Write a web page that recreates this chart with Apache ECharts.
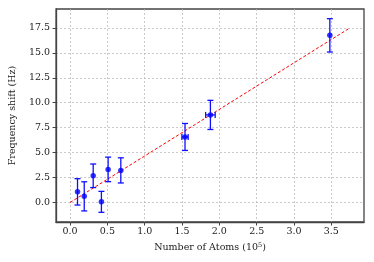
<!DOCTYPE html>
<html><head><meta charset="utf-8">
<script src="https://cdn.jsdelivr.net/npm/echarts@6/dist/echarts.min.js"></script>
<style>html,body{margin:0;padding:0;background:#fff}#c{width:374px;height:262px}</style>
</head><body><div id="c"></div>
<script>
var xValues = [0.10, 0.19, 0.31, 0.42, 0.51, 0.68, 1.54, 1.88, 3.48];
var yValues = [1.07, 0.62, 2.68, 0.07, 3.32, 3.22, 6.57, 8.78, 16.75];
var yErr    = [1.32, 1.46, 1.18, 1.05, 1.23, 1.26, 1.35, 1.46, 1.67];
var xErr    = [0, 0, 0, 0, 0, 0, 0.042, 0.064, 0];
var fitX = [0, 3.75];
var fitY = [0, 17.5];
var xTicks = [0, 0.5, 1.0, 1.5, 2.0, 2.5, 3.0, 3.5];
var yTicks = [0, 2.5, 5.0, 7.5, 10.0, 12.5, 15.0, 17.5];

var FONT = 'DejaVu Serif';
var chart = echarts.init(document.getElementById('c'), null, {renderer: 'canvas'});
var errData = xValues.map(function (x, i) { return [x, yValues[i], yErr[i], xErr[i]]; });
var pts = xValues.map(function (x, i) { return [x, yValues[i]]; });
var fit = fitX.map(function (x, i) { return [x, fitY[i]]; });

function axisCommon(ticks) {
  return {
    axisLine: {show: true, onZero: false, lineStyle: {color: '#444', width: 1.3}},
    axisTick: {show: true, inside: false, length: 3.5, lineStyle: {color: '#444', width: 1}, customValues: ticks},
    axisLabel: {customValues: ticks, color: '#222', fontFamily: FONT, fontSize: 9.5,
      formatter: function (v) { return v.toFixed(1); }},
    splitLine: {show: true, lineStyle: {color: '#bbb', type: [2, 2], width: 0.8}}
  };
}

var xa = axisCommon(xTicks);
xa.type = 'value'; xa.min = -0.1875; xa.max = 3.9375;
xa.name = 'Number of Atoms (10{sup|5})';
xa.nameLocation = 'middle'; xa.nameGap = 19;
xa.nameTextStyle = {fontFamily: FONT, fontSize: 9.5, color: '#222', rich: {sup: {fontFamily: FONT, fontSize: 6.5, verticalAlign: 'top', padding: [0, 0, 5, 0]}}};
xa.axisLabel.margin = 5;

var ya = axisCommon(yTicks);
ya.type = 'value'; ya.min = -1.95; ya.max = 19.39;
ya.name = 'Frequency shift (Hz)';
ya.nameLocation = 'middle'; ya.nameGap = 31;
ya.nameTextStyle = {fontFamily: FONT, fontSize: 9.5, color: '#222'};
ya.axisLabel.margin = 6;

chart.setOption({
  animation: false,
  grid: {left: 48, right: 10, top: 9, bottom: 40, show: true, borderColor: '#444', borderWidth: 1.3, backgroundColor: 'transparent'},
  xAxis: xa,
  yAxis: ya,
  series: [
    {
      type: 'line', data: fit, symbol: 'none', z: 2,
      lineStyle: {color: '#ff0000', width: 1, type: [3, 2]}
    },
    {
      type: 'custom', data: errData, z: 3,
      renderItem: function (params, api) {
        var x = api.value(0), y = api.value(1), ey = api.value(2), ex = api.value(3);
        var top = api.coord([x, y + ey]);
        var bot = api.coord([x, y - ey]);
        var cap = 3;
        var st = {stroke: '#1010ff', lineWidth: 1.3};
        var children = [
          {type: 'line', shape: {x1: top[0], y1: top[1], x2: bot[0], y2: bot[1]}, style: st},
          {type: 'line', shape: {x1: top[0] - cap, y1: top[1], x2: top[0] + cap, y2: top[1]}, style: st},
          {type: 'line', shape: {x1: bot[0] - cap, y1: bot[1], x2: bot[0] + cap, y2: bot[1]}, style: st}
        ];
        if (ex > 0) {
          var l = api.coord([x - ex, y]);
          var r = api.coord([x + ex, y]);
          children.push({type: 'line', shape: {x1: l[0], y1: l[1], x2: r[0], y2: r[1]}, style: st});
          children.push({type: 'line', shape: {x1: l[0], y1: l[1] - cap, x2: l[0], y2: l[1] + cap}, style: st});
          children.push({type: 'line', shape: {x1: r[0], y1: r[1] - cap, x2: r[0], y2: r[1] + cap}, style: st});
        }
        return {type: 'group', children: children};
      }
    },
    {
      type: 'scatter', data: pts, symbol: 'circle', symbolSize: 5.5, z: 4,
      itemStyle: {color: '#0000ff'}
    }
  ]
});
</script></body></html>
